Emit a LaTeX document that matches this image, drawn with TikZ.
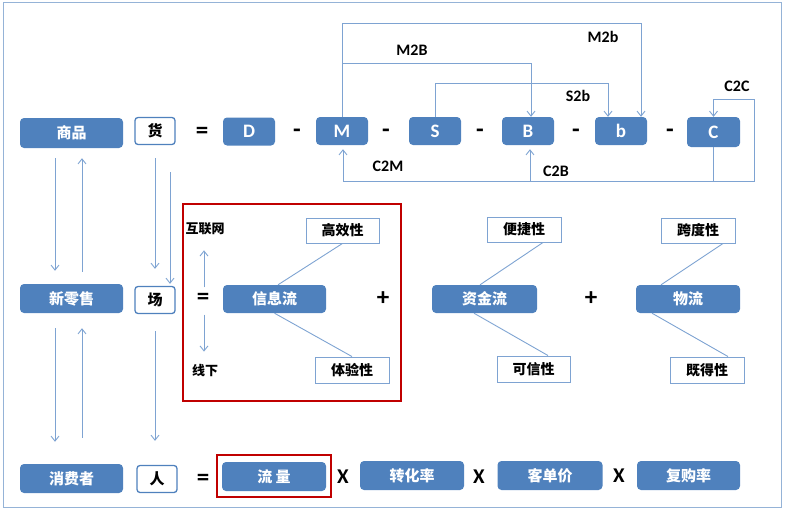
\documentclass[tikz,border=0pt]{standalone}
\usepackage{fontspec}
\setmainfont{Carlito}
\newfontfamily\cjk{Noto Sans CJK SC}
\usetikzlibrary{arrows.meta,calc}
\definecolor{boxblue}{HTML}{4F81BD}
\definecolor{lnblue}{HTML}{7EA3D2}
\definecolor{frameblue}{HTML}{95B3D7}
\definecolor{redbox}{HTML}{C00000}
\tikzset{
  bx/.style={fill=boxblue, rounded corners=4pt, text=white, inner sep=0pt, font=\cjk\bfseries\fontsize{15}{15}\selectfont},
  lbx/.style={fill=boxblue, rounded corners=4pt, text=white, inner sep=0pt, minimum width=52pt, minimum height=28pt, font=\bfseries\fontsize{19}{19}\selectfont},
  wbx/.style={draw=boxblue, line width=1.3pt, fill=white, rounded corners=3pt, inner sep=0pt, minimum width=40pt, minimum height=27pt, font=\cjk\bfseries\fontsize{15}{15}\selectfont},
  pbx/.style={draw=lnblue, line width=0.9pt, fill=white, inner sep=0pt, minimum width=74pt, minimum height=25pt, font=\cjk\bfseries\fontsize{14}{14}\selectfont},
  sym/.style={inner sep=0pt, font=\bfseries\fontsize{25}{25}\selectfont},
  xsym/.style={inner sep=0pt, font=\bfseries\fontsize{21}{21}\selectfont},
  lab/.style={inner sep=0pt, font=\bfseries\fontsize{16}{16}\selectfont},
  cjklab/.style={inner sep=0pt, font=\cjk\bfseries\fontsize{13}{13}\selectfont},
  ln/.style={draw=lnblue, line width=0.9pt},
  arr/.style={ln, -{Straight Barb[length=5pt,width=8pt]}},
  redr/.style={draw=redbox, line width=1.6pt},
}
\begin{document}
\begin{tikzpicture}[x=1pt,y=-1pt]
\useasboundingbox (0,0) rectangle (786,511);
\draw[frameblue, line width=1pt] (3,3) rectangle (781,507);
% left column
\node[bx, minimum width=103pt, minimum height=30pt] (sp) at (71.5,133) {商品};
\node[bx, minimum width=103pt, minimum height=29pt] (xl) at (71.5,298.5) {新零售};
\node[bx, minimum width=103pt, minimum height=29pt] (xf) at (71.5,478.5) {消费者};
\node[wbx] (huo) at (155,131) {货};
\node[wbx] (chang) at (155,300) {场};
\node[wbx] (ren) at (157,479) {人};
\node[sym] (eq1) at (202,133) {=};
\node[sym] (eq2) at (203,299) {=};
\node[sym] (eq3) at (203,480) {=};
% top row
\node[lbx] (D) at (249,131.5) {D};
\node[lbx] (M) at (342,131) {M};
\node[lbx] (S) at (435,131) {S};
\node[lbx] (B) at (528,131) {B};
\node[lbx] (b) at (621,131) {b};
\node[lbx, minimum width=53pt, minimum height=30pt] (C) at (713.5,132) {C};
\node[sym] (d1) at (297,133) {-};
\node[sym] (d2) at (386,133) {-};
\node[sym] (d3) at (480,133) {-};
\node[sym] (d4) at (576,133) {-};
\node[sym] (d5) at (670,133) {-};
\coordinate (t1) at (0,23);
\coordinate (t2) at (0,63);
\coordinate (t3) at (0,83);
\coordinate (t4) at (0,181);
\coordinate (cr1) at (754,181);
\coordinate (cr2) at (754,99);
\draw[arr] (M.north) -- (M.north |- t1) -| ($(b.north)+(20,0)$);
\draw[arr] (M.north |- t2) -| ($(B.north)+(3,0)$);
\draw[arr] (S.north) -- (S.north |- t3) -| ($(b.north)+(-13,0)$);
\draw[arr] (C.south) -- (C.south |- cr1) -- (cr1) -- (cr2) -| (C.north);
\draw[ln] ($(M.south |- t4)+(1,0)$) -- (C.south |- t4);
\draw[arr] ($(M.south |- t4)+(1,0)$) -- ($(M.south)+(1,4)$);
\draw[arr] ($(B.south |- t4)+(2,0)$) -- ($(B.south)+(2,4)$);
\node[lab] (lM2B) at (412,50) {M2B};
\node[lab] (lM2b) at (603,37) {M2b};
\node[lab] (lS2b) at (578,96) {S2b};
\node[lab] (lC2C) at (737,86) {C2C};
\node[lab] (lC2M) at (388,166) {C2M};
\node[lab] (lC2B) at (556,171) {C2B};
% vertical arrows
\draw[arr] ($(sp.south)+(-16.5,10)$) -- ($(xl.north)+(-16.5,-13)$);
\draw[arr] ($(xl.north)+(10.5,-12)$) -- ($(sp.south)+(10.5,10)$);
\draw[arr] ($(xl.south)+(-16.5,15)$) -- ($(xf.north)+(-16.5,-22)$);
\draw[arr] ($(xf.north)+(10.5,-26)$) -- ($(xl.south)+(10.5,15)$);
\draw[arr] ($(huo.south)+(0,13)$) -- ($(chang.north)+(0,-17)$);
\draw[arr] ($(huo.south)+(15,27)$) -- ($(chang.north)+(15,-2)$);
\draw[arr] ($(chang.south)+(0,17)$) -- ($(ren.north)+(-2,-24)$);
% middle
\draw[redr] (183,204) rectangle (401,401);
\node[cjklab] (hlw) at (205,229) {互联网};
\node[cjklab] (xx) at (205,371) {线下};
\draw[arr] ($(hlw.south)+(-1,52)$) -- ($(hlw.south)+(-1,15)$);
\draw[arr] ($(xx.north)+(-1,-50)$) -- ($(xx.north)+(-1,-13)$);
\node[bx, minimum width=103pt, minimum height=28pt] (xxl) at (274.5,299) {信息流};
\node[pbx, minimum width=73pt] (gxx) at (342.5,230.5) {高效性};
\node[pbx, minimum height=26pt] (tyx) at (352,370) {体验性};
\draw[ln] (gxx.south) -- ($(xxl.north)+(3.5,0)$);
\draw[ln] (xxl.south) -- (tyx.north);
\node[sym] (p1) at (383,299) {+};
\node[bx, minimum width=105pt, minimum height=28pt] (zjl) at (484.5,299) {资金流};
\node[pbx] (bjx) at (524,229.5) {便捷性};
\node[pbx, minimum width=73pt, minimum height=26pt] (kxx) at (533.5,369) {可信性};
\draw[ln] ($(bjx.south)+(19,0)$) -- ($(zjl.north)+(-4.5,0)$);
\draw[ln] ($(zjl.south)+(-10.5,0)$) -- ($(kxx.north)+(14.5,0)$);
\node[sym] (p2) at (591,299) {+};
\node[bx, minimum width=104pt, minimum height=28pt] (wl) at (688,299) {物流};
\node[pbx] (kdx) at (698,230.5) {跨度性};
\node[pbx, minimum height=26pt] (jdx) at (707,370) {既得性};
\draw[ln] ($(kdx.south)+(25,0)$) -- ($(wl.north)+(-27,0)$);
\draw[ln] ($(wl.south)+(-36,0)$) -- ($(jdx.north)+(21,0)$);
% bottom row
\node[bx, minimum width=104pt, minimum height=29pt] (ll) at (274,476.5) {流 量};
\draw[redr] (217,455) rectangle (331,497);
\node[xsym] (x1) at (343,477) {X};
\node[bx, minimum width=104pt, minimum height=29pt] (zhl) at (412,475.5) {转化率};
\node[xsym] (x2) at (479,477) {X};
\node[bx, minimum width=105pt, minimum height=29pt] (kdj) at (550,475.5) {客单价};
\node[xsym] (x3) at (619,476) {X};
\node[bx, minimum width=103pt, minimum height=29pt] (fgl) at (688.5,475.5) {复购率};
\end{tikzpicture}
\end{document}
